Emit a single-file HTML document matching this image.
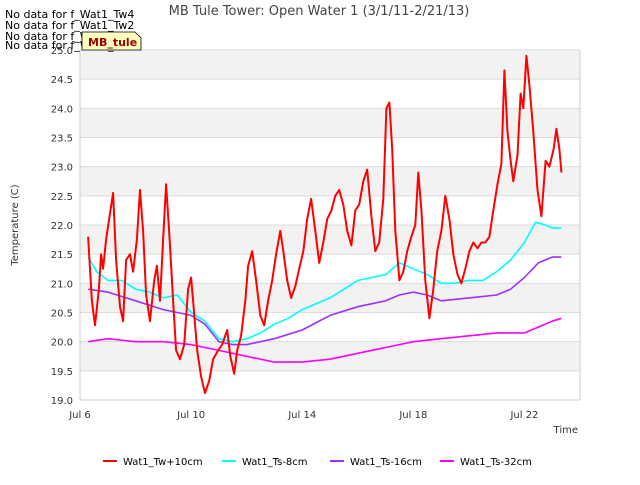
<!DOCTYPE html>
<html><head><meta charset="utf-8"><style>
body{margin:0;background:#fff;font-family:"Liberation Sans","DejaVu Sans",sans-serif;}
svg text{font-family:"DejaVu Sans","Liberation Sans",sans-serif;}
</style></head><body>
<svg id="chart" width="640" height="480" xmlns="http://www.w3.org/2000/svg">
<g id="bands"></g>
<g id="axes"></g>
<g id="series"></g>
<text x="319" y="15" text-anchor="middle" font-size="13" fill="#444">MB Tule Tower: Open Water 1 (3/1/11-2/21/13)</text>
<text x="18" y="225" text-anchor="middle" font-size="10" fill="#333" transform="rotate(-90 18 225)">Temperature (C)</text>
<text x="578" y="433" text-anchor="end" font-size="10" fill="#333">Time</text>
<g font-size="11" fill="#000">
<text x="5" y="18">No data for f_Wat1_Tw4</text>
<text x="5" y="29">No data for f_Wat1_Tw2</text>
<text x="5" y="40">No data for f_Wat1_Ts2</text>
<text x="5" y="49">No data for f_Wat1_Ts4</text>
</g>
<g>
<path d="M82,32 L135,32 L141,38 L141,50 L82,50 Z" fill="#ffffc0" stroke="#000" stroke-width="0.8"/>
<text x="88" y="46" font-size="11" font-weight="bold" fill="#a00000">MB_tule</text>
</g>
<g id="legend"></g>
</svg>
<script>
const redDays=[0.29,0.43,0.54,0.68,0.76,0.83,0.94,1.08,1.19,1.30,1.44,1.55,1.66,1.80,1.91,2.05,2.16,2.27,2.38,2.52,2.67,2.77,2.88,2.99,3.10,3.24,3.35,3.46,3.60,3.75,3.89,4.00,4.07,4.22,4.36,4.50,4.65,4.79,4.97,5.12,5.30,5.41,5.55,5.66,5.80,5.95,6.05,6.20,6.34,6.49,6.63,6.77,6.92,7.06,7.21,7.32,7.46,7.60,7.75,7.89,8.04,8.18,8.32,8.47,8.61,8.76,8.90,9.05,9.19,9.33,9.48,9.62,9.77,9.91,10.05,10.20,10.34,10.49,10.63,10.77,10.92,11.03,11.14,11.24,11.35,11.50,11.64,11.78,11.93,12.07,12.18,12.29,12.43,12.58,12.72,12.86,13.01,13.15,13.30,13.44,13.59,13.73,13.87,14.02,14.16,14.31,14.45,14.59,14.74,14.88,15.03,15.17,15.28,15.39,15.50,15.60,15.75,15.86,15.96,16.07,16.18,16.32,16.47,16.61,16.76,16.90,17.05,17.15,17.26,17.33];
const redVals=[21.8,20.7,20.28,20.9,21.5,21.25,21.75,22.2,22.55,21.4,20.6,20.35,21.4,21.5,21.2,21.75,22.6,21.9,20.8,20.35,21.05,21.3,20.7,21.75,22.7,21.65,20.7,19.85,19.7,19.95,20.9,21.1,20.7,19.85,19.4,19.12,19.33,19.7,19.85,19.95,20.2,19.75,19.45,19.85,20.1,20.7,21.3,21.55,21.05,20.45,20.28,20.7,21.05,21.5,21.9,21.55,21.05,20.75,20.95,21.25,21.55,22.1,22.45,21.9,21.35,21.7,22.1,22.25,22.5,22.6,22.35,21.9,21.65,22.25,22.35,22.75,22.95,22.15,21.55,21.7,22.45,24.0,24.1,23.3,21.9,21.05,21.2,21.55,21.8,22.0,22.9,22.25,21.05,20.4,20.9,21.55,21.9,22.5,22.1,21.5,21.15,21.0,21.25,21.55,21.7,21.6,21.7,21.7,21.8,22.25,22.7,23.05,24.65,23.6,23.1,22.75,23.2,24.25,24.0,24.9,24.4,23.6,22.6,22.15,23.1,23.0,23.3,23.65,23.3,22.9];
const cyanDays=[0.3,0.6,1,1.5,2,2.5,3,3.5,4,4.5,5,5.5,6,6.5,7,7.5,8,8.5,9,9.5,10,10.5,11,11.5,12,12.5,13,13.5,14,14.5,15,15.5,16,16.4,16.75,17.0,17.33];
const cyanVals=[21.45,21.2,21.05,21.05,20.9,20.85,20.75,20.8,20.5,20.35,20.05,20.0,20.05,20.15,20.3,20.4,20.55,20.65,20.75,20.9,21.05,21.1,21.15,21.35,21.25,21.15,21.0,21.0,21.05,21.05,21.2,21.4,21.7,22.05,22.0,21.95,21.95];
const purpleDays=[0.3,1,2,3,4,4.5,5,5.5,6,7,8,9,10,11,11.5,12,12.5,13,14,15,15.5,16,16.5,17,17.33];
const purpleVals=[20.9,20.85,20.7,20.55,20.45,20.3,20.0,19.95,19.95,20.05,20.2,20.45,20.6,20.7,20.8,20.85,20.8,20.7,20.75,20.8,20.9,21.1,21.35,21.45,21.45];
const magentaDays=[0.3,1,2,3,4,5,6,7,8,9,10,11,12,13,14,15,16,16.5,17,17.33];
const magentaVals=[20.0,20.05,20.0,20.0,19.95,19.85,19.75,19.65,19.65,19.7,19.8,19.9,20.0,20.05,20.1,20.15,20.15,20.25,20.35,20.4];
const yTicks=[19.0,19.5,20.0,20.5,21.0,21.5,22.0,22.5,23.0,23.5,24.0,24.5,25.0];
const xTickDays=[0,4,8,12,16];
const xTickLabels=["Jul 6","Jul 10","Jul 14","Jul 18","Jul 22"];
const seriesNames=["Wat1_Tw+10cm","Wat1_Ts-8cm","Wat1_Ts-16cm","Wat1_Ts-32cm"];
const seriesColors=["#ff0000","#00ffff","#9b30ff","#ff00ff"];

const X0=80,X1=580,Y0=50,Y1=400;
const xs=d=>X0+d*(X1-X0)/18;
const ys=v=>Y1-(v-19)*(Y1-Y0)/6;
const NS="http://www.w3.org/2000/svg";
function mk(tag,attrs,parent){const e=document.createElementNS(NS,tag);for(const k in attrs)e.setAttribute(k,attrs[k]);parent.appendChild(e);return e;}
const bands=document.getElementById('bands'),axes=document.getElementById('axes'),ser=document.getElementById('series'),leg=document.getElementById('legend');
mk('rect',{x:X0,y:Y0,width:X1-X0,height:Y1-Y0,fill:'#fff'},bands);
for(let i=0;i<yTicks.length-1;i++){
  if(i%2===1){const r=mk('rect',{x:X0,y:ys(yTicks[i+1]),width:X1-X0,height:ys(yTicks[i])-ys(yTicks[i+1]),fill:'#f2f2f2'},bands);
  
  }
}
yTicks.forEach(v=>{
  const l=mk('line',{x1:X0,x2:X1,y1:ys(v),y2:ys(v),stroke:'#dcdcdc','stroke-width':1},axes);
  
  
  const t=mk('text',{x:X0-7,y:ys(v)+4,'text-anchor':'end','font-size':10,fill:'#333'},axes);
  t.textContent=v.toFixed(1);
  
  
});
mk('line',{x1:X0,x2:X0,y1:Y0,y2:Y1,stroke:'#ccc'},axes);
mk('line',{x1:X1,x2:X1,y1:Y0,y2:Y1,stroke:'#ccc'},axes);
mk('line',{x1:X0,x2:X1,y1:Y1,y2:Y1,stroke:'#ccc'},axes);
xTickDays.forEach((d,i)=>{
  const t=mk('text',{x:xs(d),y:Y1+18,'text-anchor':'middle','font-size':10,fill:'#333'},axes);
  t.textContent=xTickLabels[i];
  
  
});
const all=[[redDays,redVals],[cyanDays,cyanVals],[purpleDays,purpleVals],[magentaDays,magentaVals]];
[3,2,1,0].forEach(i=>{
  const [d,v]=all[i];
  const p=mk('polyline',{points:d.map((x,j)=>xs(x).toFixed(1)+','+ys(v[j]).toFixed(1)).join(' '),fill:'none',stroke:seriesColors[i],'stroke-width':i===0?2:1.6,'stroke-linejoin':'round'},ser);
  
  
});
const legX=[103,222,330,440];
seriesNames.forEach((n,i)=>{
  const g=mk('g',{},leg);
  
  
  mk('line',{x1:legX[i],x2:legX[i]+14,y1:461,y2:461,stroke:seriesColors[i],'stroke-width':2},g);
  const t=mk('text',{x:legX[i]+20,y:465,'font-size':10,fill:'#000'},g);
  t.textContent=n;
});
</script>
</body></html>
